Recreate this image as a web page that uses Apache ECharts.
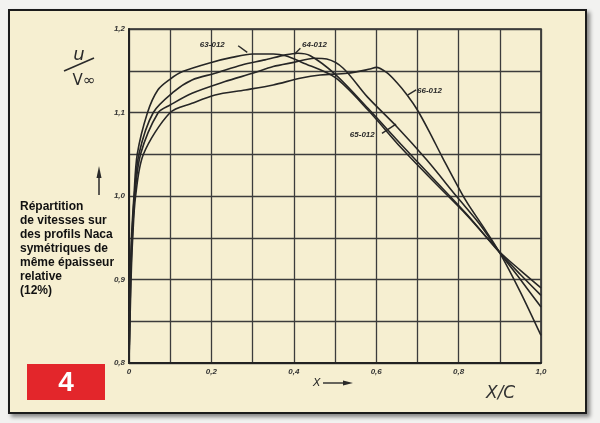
<!DOCTYPE html>
<html><head><meta charset="utf-8">
<script src="https://cdn.jsdelivr.net/npm/echarts@6/dist/echarts.min.js"></script>
<style>
html,body{margin:0;padding:0;background:#f2f2f0;}
#frame{position:absolute;left:8px;top:9px;width:579px;height:405px;box-sizing:border-box;border:2px solid #1b1b1b;background:#f6efd1;box-shadow:3px 3px 4px rgba(0,0,0,0.45);}
#c{position:absolute;left:0;top:0;width:600px;height:423px;}
</style>
</head><body><div id="frame"></div><div id="c"></div>
<script>
// Velocity distribution u/V∞ along chord x/c for NACA 6-series profiles (12%)
const x63 = [0, 0.003, 0.006, 0.012, 0.02, 0.045, 0.07, 0.1, 0.13, 0.2, 0.25, 0.3, 0.35, 0.38, 0.42, 0.5, 0.58, 0.66, 0.74, 0.82, 0.9, 0.95, 1.0];
const y63 = [0.80, 0.90, 0.95, 1.00, 1.05, 1.10, 1.127, 1.14, 1.149, 1.16, 1.166, 1.17, 1.17, 1.168, 1.16, 1.142, 1.103, 1.058, 1.017, 0.977, 0.933, 0.911, 0.890];
const x64 = [0, 0.003, 0.007, 0.013, 0.024, 0.059, 0.109, 0.153, 0.209, 0.274, 0.33, 0.38, 0.41, 0.44, 0.5, 0.58, 0.66, 0.74, 0.82, 0.9, 0.95, 1.0];
const y64 = [0.80, 0.90, 0.95, 1.00, 1.05, 1.10, 1.125, 1.139, 1.147, 1.157, 1.163, 1.169, 1.171, 1.168, 1.146, 1.105, 1.062, 1.020, 0.978, 0.932, 0.906, 0.881];
const x65 = [0, 0.004, 0.008, 0.014, 0.028, 0.071, 0.1, 0.153, 0.233, 0.3, 0.35, 0.4, 0.45, 0.48, 0.52, 0.578, 0.65, 0.723, 0.796, 0.85, 0.9, 0.95, 1.0];
const y65 = [0.80, 0.90, 0.95, 1.00, 1.05, 1.10, 1.109, 1.123, 1.137, 1.147, 1.155, 1.160, 1.165, 1.164, 1.153, 1.119, 1.083, 1.043, 0.999, 0.967, 0.932, 0.900, 0.867];
const x66 = [0, 0.005, 0.009, 0.016, 0.035, 0.1, 0.153, 0.209, 0.282, 0.35, 0.415, 0.464, 0.53, 0.585, 0.6, 0.625, 0.65, 0.675, 0.7, 0.73, 0.76, 0.817, 0.86, 0.9, 0.95, 1.0];
const y66 = [0.80, 0.90, 0.95, 1.00, 1.05, 1.10, 1.111, 1.121, 1.127, 1.133, 1.141, 1.145, 1.147, 1.152, 1.154, 1.148, 1.136, 1.121, 1.103, 1.076, 1.047, 0.995, 0.963, 0.932, 0.885, 0.833];
const seriesNames = ['63-012', '64-012', '65-012', '66-012'];
const xTickValues = [0, 0.2, 0.4, 0.6, 0.8, 1.0];
const xTickLabels = ['0', '0,2', '0,4', '0,6', '0,8', '1,0'];
const yTickValues = [0.8, 0.9, 1.0, 1.1, 1.2];
const yTickLabels = ['0,8', '0,9', '1,0', '1,1', '1,2'];
const noteLines = ['Répartition', 'de vitesses sur', 'des profils Naca', 'symétriques de', 'même épaisseur', 'relative', '(12%)'];
const figNumber = '4';

const chart = echarts.init(document.getElementById('c'), null, {renderer: 'canvas'});
const ink = '#262626';
function pick(vals, labels, v) {
  const i = vals.findIndex(t => Math.abs(t - v) < 1e-6);
  return i >= 0 ? labels[i] : '';
}
const xs = [x63, x64, x65, x66], ys = [y63, y64, y65, y66];
const series = seriesNames.map((n, k) => ({
  name: n, type: 'line', smooth: 0.3, symbol: 'none',
  lineStyle: {color: ink, width: 1.6},
  data: xs[k].map((x, i) => [x, ys[k][i]])
}));
const tickFont = {color: '#333', fontSize: 8, fontStyle: 'italic', fontWeight: 'bold', fontFamily: 'Liberation Sans'};
chart.setOption({
  backgroundColor: 'transparent',
  animation: false,
  grid: {left: 129, right: 59, top: 29, bottom: 60, show: true, borderColor: '#2a2a2a', borderWidth: 1.6, backgroundColor: 'transparent'},
  xAxis: {type: 'value', min: 0, max: 1, interval: 0.1,
    axisLine: {show: true, lineStyle: {color: '#222', width: 2}}, axisTick: {show: false},
    splitLine: {show: true, lineStyle: {color: '#3c3c3c', width: 1.3}},
    axisLabel: Object.assign({margin: 5, formatter: v => pick(xTickValues, xTickLabels, v)}, tickFont)},
  yAxis: {type: 'value', min: 0.8, max: 1.2, interval: 0.05,
    axisLine: {show: true, lineStyle: {color: '#222', width: 2}}, axisTick: {show: false},
    splitLine: {show: true, lineStyle: {color: '#3c3c3c', width: 1.3}},
    axisLabel: Object.assign({margin: 4, formatter: v => pick(yTickValues, yTickLabels, v)}, tickFont)},
  series: series
});

const P = (x, y) => chart.convertToPixel({gridIndex: 0}, [x, y]);
const lab = (txt, x, y) => { const p = P(x, y); return {type: 'text', x: p[0], y: p[1], style: {text: txt, fill: '#2a2a2a', font: 'italic bold 8px "Liberation Sans"', textVerticalAlign: 'middle'}}; };
const ptr = (a, b) => { const p = P(a[0], a[1]), q = P(b[0], b[1]); return {type: 'line', shape: {x1: p[0], y1: p[1], x2: q[0], y2: q[1]}, style: {stroke: '#2a2a2a', lineWidth: 1.4}}; };

const g = [];
g.push(lab(seriesNames[0], 0.172, 1.181), ptr([0.265, 1.180], [0.287, 1.172]));
g.push(lab(seriesNames[1], 0.42, 1.1815), ptr([0.416, 1.177], [0.402, 1.170]));
g.push(lab(seriesNames[2], 0.536, 1.073), ptr([0.614, 1.075], [0.648, 1.086]));
g.push(lab(seriesNames[3], 0.699, 1.126), ptr([0.677, 1.121], [0.697, 1.127]));
noteLines.forEach((t, i) => g.push({type: 'text', x: 20, y: 207 + 14 * i,
  style: {text: t, fill: '#111', font: 'bold 12px "Liberation Sans"', textVerticalAlign: 'middle'}}));
g.push({type: 'rect', shape: {x: 27, y: 364, width: 78, height: 36}, style: {fill: '#e3262b'}});
g.push({type: 'text', x: 66, y: 383, style: {text: figNumber, fill: '#fff', font: 'bold 28px "Liberation Sans"', textAlign: 'center', textVerticalAlign: 'middle'}});
// y-axis label u / V∞
g.push({type: 'text', x: 79, y: 55, style: {text: 'u', fill: '#2a2a2a', font: 'italic 18px "DejaVu Sans"', textAlign: 'center', textVerticalAlign: 'middle'}});
g.push({type: 'line', shape: {x1: 64, y1: 71, x2: 94, y2: 58}, style: {stroke: '#2a2a2a', lineWidth: 1.6}});
g.push({type: 'text', x: 84, y: 81, style: {text: 'V∞', fill: '#2a2a2a', font: '15px "DejaVu Sans"', textAlign: 'center', textVerticalAlign: 'middle'}});
// up arrow
g.push({type: 'line', shape: {x1: 99, y1: 195, x2: 99, y2: 172}, style: {stroke: '#2a2a2a', lineWidth: 1.5}});
g.push({type: 'polygon', shape: {points: [[99, 166], [96.5, 178], [101.5, 178]]}, style: {fill: '#2a2a2a'}});
// x arrow
g.push({type: 'text', x: 313, y: 383, style: {text: 'X', fill: '#2a2a2a', font: 'italic 11px "DejaVu Sans"', textVerticalAlign: 'middle'}});
g.push({type: 'line', shape: {x1: 323, y1: 383, x2: 346, y2: 383}, style: {stroke: '#2a2a2a', lineWidth: 1.4}});
g.push({type: 'polygon', shape: {points: [[353, 383], [343, 380.5], [343, 385.5]]}, style: {fill: '#2a2a2a'}});
g.push({type: 'text', x: 486, y: 394, style: {text: 'X/C', fill: '#333', font: 'italic 17px "DejaVu Sans"', textVerticalAlign: 'middle'}});
chart.setOption({graphic: {elements: g}});
</script>
</body></html>
